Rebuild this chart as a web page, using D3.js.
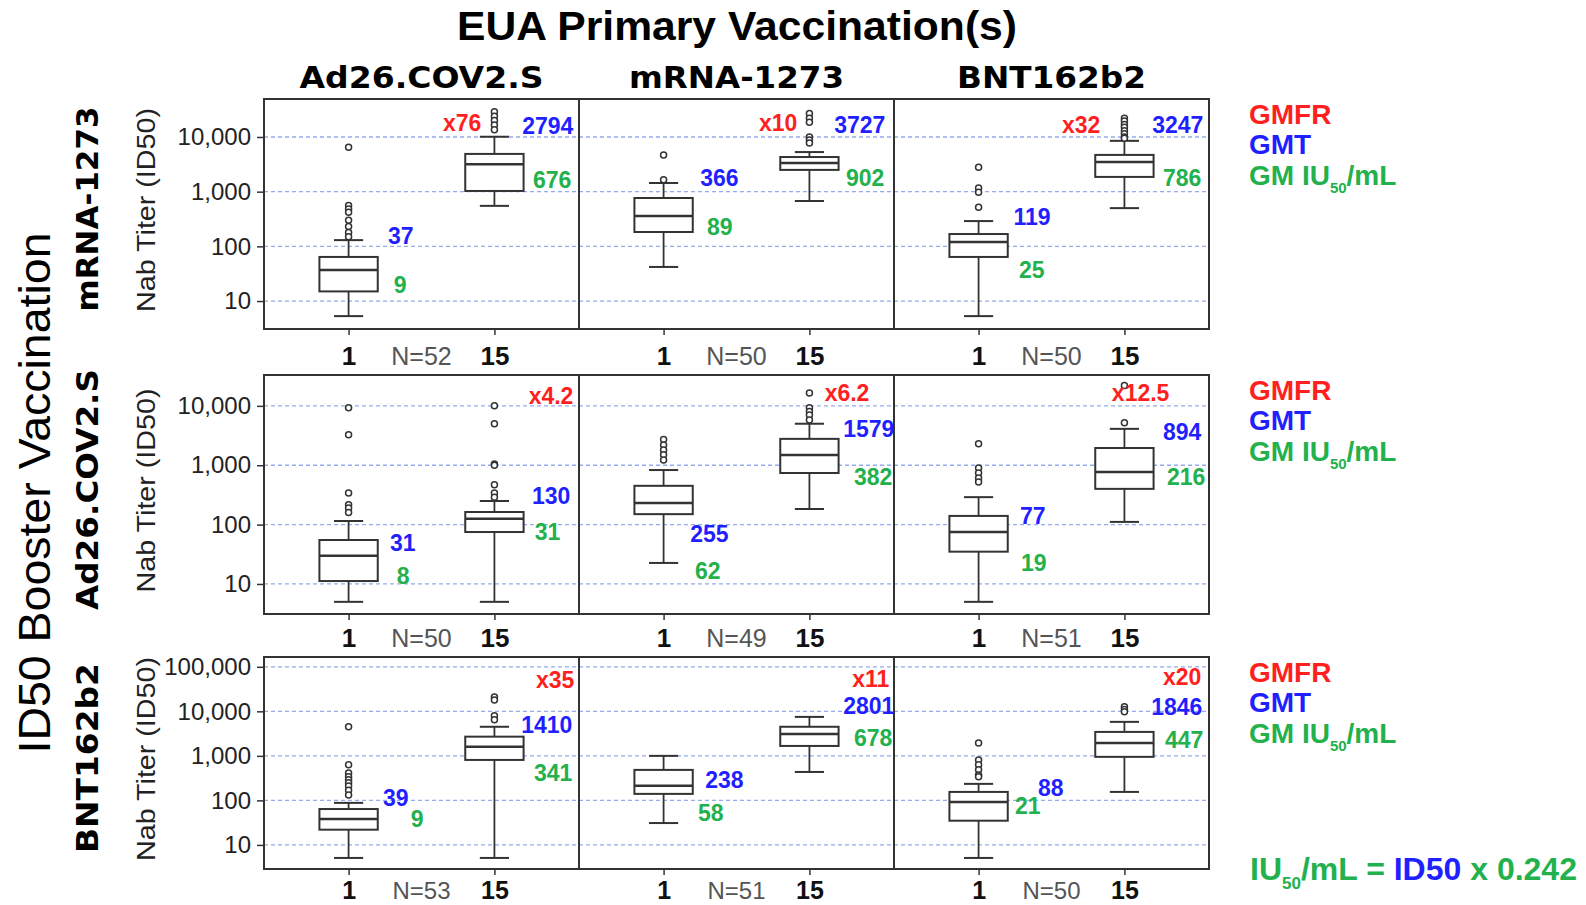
<!DOCTYPE html>
<html>
<head>
<meta charset="utf-8">
<script src="https://cdn.jsdelivr.net/npm/d3@7"></script>
<style>
  body { margin: 0; background: #fff; }
</style>
</head>
<body>
<div id="chart"></div>
<script>
// columns = primary vaccination, rows = booster vaccination
const primaryVax = ["Ad26.COV2.S", "mRNA-1273", "BNT162b2"];
const boosterVax = ["mRNA-1273", "Ad26.COV2.S", "BNT162b2"];
const days = ["1", "15"];
const nSubjects = [[52, 50, 50], [50, 49, 51], [53, 51, 50]];
const gmfrText = [["x76", "x10", "x32"], ["x4.2", "x6.2", "x12.5"], ["x35", "x11", "x20"]];
// [day 1, day 15]
const gmtValues = [
	[[37, 2794], [366, 3727], [119, 3247]],
	[[31, 130], [255, 1579], [77, 894]],
	[[39, 1410], [238, 2801], [88, 1846]]
];
const gmIUValues = [
	[[9, 676], [89, 902], [25, 786]],
	[[8, 31], [62, 382], [19, 216]],
	[[9, 341], [58, 678], [21, 447]]
];
// [low whisker, Q1, median, Q3, high whisker]
const boxStats = [
	[[[5.3, 15, 37, 64, 130], [550, 1030, 3170, 4900, 10100]],
	 [[42, 183, 359, 766, 1440], [675, 2500, 3340, 4300, 5300]],
	 [[5.3, 64, 120, 168, 290], [500, 1860, 3500, 4700, 8500]]],
	[[[5, 11.2, 30, 55, 115], [5, 75, 125, 163, 250]],
	 [[22.6, 150, 232, 450, 830], [183, 740, 1490, 2780, 5000]],
	 [[5, 35, 75, 140, 290], [111, 400, 770, 1950, 4100]]],
	[[[5.1, 22, 38, 64, 88], [5.1, 810, 1600, 2700, 4500]],
	 [[31, 140, 213, 484, 1000], [435, 1670, 3100, 4500, 7500]],
	 [[5.1, 35, 92, 155, 235], [155, 950, 1950, 3450, 5800]]]
];
const outliers = [
	[[[6500, 560, 480, 420, 300, 230, 180, 150], [29000, 24000, 20000, 16500, 13500]],
	 [[4700, 1650], [27000, 22000, 18500, 10000, 8800, 7800]],
	 [[2800, 1170, 980, 520], [22000, 19500, 17000, 15000, 13000, 11500, 10000, 9500]]],
	[[[9300, 3250, 340, 215, 190, 160], [10000, 5000, 1050, 1000, 470, 340, 290]],
	 [[2700, 2200, 1800, 1500, 1220], [16500, 9300, 8000, 7000, 5800]],
	 [[2300, 900, 740, 610, 520], [22000, 5200]]],
	[[[4500, 630, 410, 340, 290, 250, 210, 170, 133], [21000, 18000, 8000, 6500]],
	 [[], []],
	 [[1950, 810, 630, 485, 370, 340], [12700, 11000, 9800]]]
];
const yTicks = [[10, 100, 1000, 10000], [10, 100, 1000, 10000], [10, 100, 1000, 10000, 100000]];
const yDomains = [[3.08, 49500], [3.12, 33100], [2.88, 166000]];

// label placement: [px offset of text end from the box centre, height in titer units]
const gmfrAt = [
	[[-13, 18000], [-12, 18000], [-24, 17000]],
	[[79, 14800], [60, 16500], [45, 16500]],
	[[80, 51000], [80, 54000], [77, 60000]]
];
const gmtAt = [
	[[[65, 155], [79, 15800]], [[75, 1780], [76, 16500]], [[72, 343], [79, 17000]]],
	[[[67, 49], [76, 304]], [[65, 70], [85, 4100]], [[67, 140], [77, 3640]]],
	[[[60, 114], [78, 5000]], [[80, 290], [85, 13200]], [[85, 190], [78, 12600]]]
];
const gmAt = [
	[[[58, 19.6], [77, 1630]], [[69, 226], [75, 1780]], [[66, 38], [77, 1780]]],
	[[[61, 13.6], [66, 75]], [[57, 17], [83, 630]], [[68, 22.6], [81, 630]]],
	[[[75, 38], [78, 415]], [[60, 52], [83, 2530]], [[62, 75], [79, 2300]]]
];

var red = "#ff1f1f", blue = "#1f1fff", green = "#22b14c";
var sans = "'Liberation Sans', Arial, sans-serif";
var wide = "'DejaVu Sans', 'Liberation Sans', sans-serif";

var colX = [264, 579, 894], panelW = 315;
var rowTop = [99, 375, 657], rowBot = [329, 614, 869];

var svg = d3.select("#chart").append("svg")
	.attr("width", 1586)
	.attr("height", 905)
	.style("font-family", sans);

var x = d3.scalePoint().domain(days).range([0, panelW]).padding(0.58);
var boxW = 0.4 * x.step();

// titles
svg.append("text")
	.attr("x", 737).attr("y", 40)
	.attr("text-anchor", "middle")
	.attr("font-size", "40px").attr("font-weight", "bold")
	.attr("textLength", 560).attr("lengthAdjust", "spacingAndGlyphs")
	.text("EUA Primary Vaccination(s)");

var colTitleLen = [244, 215, 189];
primaryVax.forEach(function(p, c) {
	svg.append("text")
		.attr("x", colX[c] + panelW / 2).attr("y", 88)
		.attr("text-anchor", "middle")
		.style("font-family", wide)
		.attr("font-size", "30px").attr("font-weight", "bold")
		.attr("textLength", colTitleLen[c]).attr("lengthAdjust", "spacingAndGlyphs")
		.text(p);
});

svg.append("text")
	.attr("transform", "translate(50,493) rotate(-90)")
	.attr("text-anchor", "middle")
	.attr("font-size", "44px")
	.attr("textLength", 521).attr("lengthAdjust", "spacingAndGlyphs")
	.text("ID50 Booster Vaccination");

var rowTitleLen = [205, 241, 190];
var xPad = [12, 9, 6];
var xFont = [26, 26, 25];

boosterVax.forEach(function(b, r) {
	var y = d3.scaleLog().domain(yDomains[r]).range([rowBot[r], rowTop[r]]);
	var mid = (rowTop[r] + rowBot[r]) / 2;

	svg.append("text")
		.attr("transform", "translate(98," + (mid - 5) + ") rotate(-90)")
		.attr("text-anchor", "middle")
		.style("font-family", wide)
		.attr("font-size", "30px").attr("font-weight", "bold")
		.attr("textLength", rowTitleLen[r]).attr("lengthAdjust", "spacingAndGlyphs")
		.text(b);

	svg.append("text")
		.attr("transform", "translate(155," + (mid - 4) + ") rotate(-90)")
		.attr("text-anchor", "middle")
		.attr("font-size", "25px").attr("fill", "#222")
		.attr("textLength", 204).attr("lengthAdjust", "spacingAndGlyphs")
		.text("Nab Titer (ID50)");

	// y axis on the first panel only
	svg.append("g")
		.attr("transform", "translate(" + colX[0] + ",0)")
		.call(d3.axisLeft(y).tickValues(yTicks[r]).tickFormat(d3.format(",")).tickSize(7).tickPadding(6))
		.call(g => g.select(".domain").remove())
		.call(g => g.selectAll("line").attr("stroke", "#333").attr("stroke-width", 1.5))
		.call(g => g.selectAll("text").attr("font-size", "24px").attr("fill", "#222").style("font-family", sans));

	primaryVax.forEach(function(p, c) {
		var g = svg.append("g").attr("transform", "translate(" + colX[c] + ",0)");

		// dashed grid
		g.append("g")
			.selectAll("line")
			.data(yTicks[r])
			.enter()
			.append("line")
			.attr("x1", 0).attr("x2", panelW)
			.attr("y1", d => y(d)).attr("y2", d => y(d))
			.attr("stroke", "#94acec")
			.attr("stroke-width", 1.3)
			.attr("stroke-dasharray", "4,3");

		// x axis
		g.append("g")
			.attr("transform", "translate(0," + rowBot[r] + ")")
			.call(d3.axisBottom(x).tickSize(6).tickPadding(xPad[r]))
			.call(a => a.select(".domain").remove())
			.call(a => a.selectAll("line").attr("stroke", "#333").attr("stroke-width", 1.5))
			.call(a => a.selectAll("text").attr("font-size", xFont[r] + "px").attr("font-weight", "bold")
				.attr("fill", "#111").style("font-family", sans));

		g.append("text")
			.attr("x", panelW / 2)
			.attr("y", rowBot[r] + 6 + xPad[r] + 0.71 * xFont[r])
			.attr("text-anchor", "middle")
			.attr("font-size", (xFont[r] - 1) + "px").attr("fill", "#555")
			.text("N=" + nSubjects[r][c]);

		days.forEach(function(d, i) {
			var s = boxStats[r][c][i], cx = x(d);
			var bx = g.append("g").attr("stroke", "#333").attr("fill", "none");

			// whiskers
			bx.append("line").attr("x1", cx).attr("x2", cx).attr("y1", y(s[0])).attr("y2", y(s[1])).attr("stroke-width", 1.8);
			bx.append("line").attr("x1", cx).attr("x2", cx).attr("y1", y(s[3])).attr("y2", y(s[4])).attr("stroke-width", 1.8);
			bx.append("line").attr("x1", cx - boxW / 4).attr("x2", cx + boxW / 4).attr("y1", y(s[0])).attr("y2", y(s[0])).attr("stroke-width", 2);
			bx.append("line").attr("x1", cx - boxW / 4).attr("x2", cx + boxW / 4).attr("y1", y(s[4])).attr("y2", y(s[4])).attr("stroke-width", 2);

			bx.append("rect")
				.attr("x", cx - boxW / 2).attr("width", boxW)
				.attr("y", y(s[3])).attr("height", y(s[1]) - y(s[3]))
				.attr("fill", "#fff")
				.attr("stroke-width", 2);

			bx.append("line").attr("x1", cx - boxW / 2).attr("x2", cx + boxW / 2)
				.attr("y1", y(s[2])).attr("y2", y(s[2])).attr("stroke-width", 2.5);

			bx.selectAll("circle")
				.data(outliers[r][c][i])
				.enter()
				.append("circle")
				.attr("cx", cx).attr("cy", v => y(v))
				.attr("r", 3)
				.attr("fill", "#fff")
				.attr("stroke-width", 1.5);

			g.append("text")
				.attr("x", cx + gmtAt[r][c][i][0]).attr("y", y(gmtAt[r][c][i][1]))
				.attr("dy", "0.36em").attr("text-anchor", "end")
				.attr("font-size", "23px").attr("font-weight", "bold").attr("fill", blue)
				.text(gmtValues[r][c][i]);

			g.append("text")
				.attr("x", cx + gmAt[r][c][i][0]).attr("y", y(gmAt[r][c][i][1]))
				.attr("dy", "0.36em").attr("text-anchor", "end")
				.attr("font-size", "23px").attr("font-weight", "bold").attr("fill", green)
				.text(gmIUValues[r][c][i]);
		});

		g.append("text")
			.attr("x", x("15") + gmfrAt[r][c][0]).attr("y", y(gmfrAt[r][c][1]))
			.attr("dy", "0.36em").attr("text-anchor", "end")
			.attr("font-size", "23px").attr("font-weight", "bold").attr("fill", red)
			.text(gmfrText[r][c]);

		// panel frame
		g.append("rect")
			.attr("x", 0).attr("y", rowTop[r])
			.attr("width", panelW).attr("height", rowBot[r] - rowTop[r])
			.attr("fill", "none")
			.attr("stroke", "#333")
			.attr("stroke-width", 2);
	});

	// legend
	var lg = svg.append("g")
		.attr("transform", "translate(1249," + (rowTop[r] + 25) + ")")
		.attr("font-size", "28px").attr("font-weight", "bold");
	lg.append("text").attr("y", 0).attr("fill", red).text("GMFR");
	lg.append("text").attr("y", 30).attr("fill", blue).text("GMT");
	var gm = lg.append("text").attr("y", 61).attr("fill", green);
	gm.append("tspan").text("GM IU");
	gm.append("tspan").attr("dy", 8).attr("font-size", "15px").text("50");
	gm.append("tspan").attr("dy", -8).text("/mL");
});

// conversion note
var note = svg.append("text")
	.attr("x", 1250).attr("y", 880)
	.attr("font-size", "32px").attr("font-weight", "bold").attr("fill", green);
note.append("tspan").text("IU");
note.append("tspan").attr("dy", 9).attr("font-size", "17px").text("50");
note.append("tspan").attr("dy", -9).text("/mL = ");
note.append("tspan").attr("fill", blue).text("ID50");
note.append("tspan").text(" x 0.242");
</script>
</body>
</html>
